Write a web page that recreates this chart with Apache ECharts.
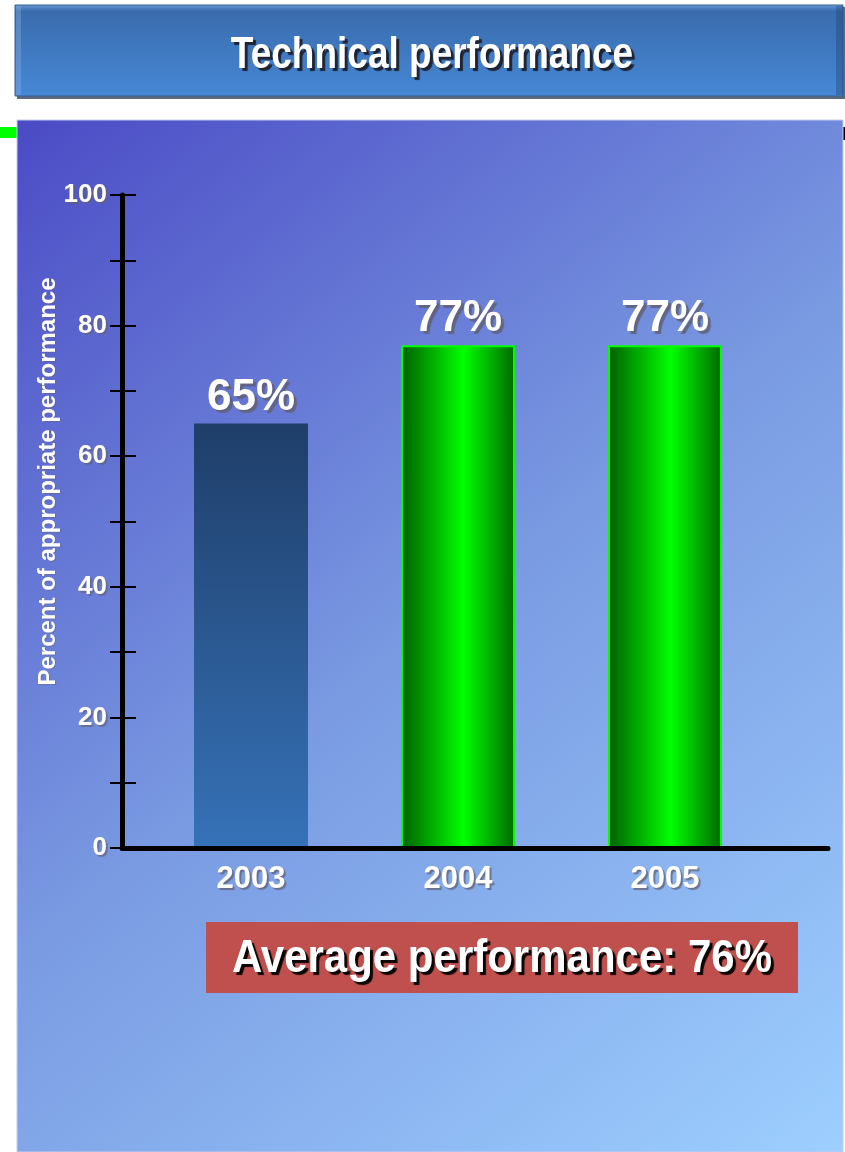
<!DOCTYPE html>
<html>
<head>
<meta charset="utf-8">
<title>Technical performance</title>
<script src="https://cdn.jsdelivr.net/npm/echarts@6/dist/echarts.min.js"></script>
<style>
  html, body { margin: 0; padding: 0; background: #ffffff; }
  #chart { width: 845px; height: 1152px; }
</style>
</head>
<body>
<div id="chart"></div>
<script>
// ---- data ----
const chartTitle = 'Technical performance';
const yAxisTitle = 'Percent of appropriate performance';
const years = ['2003', '2004', '2005'];
const performance = [65, 77, 77];
const labeledTicks = [0, 20, 40, 60, 80, 100];
const averageText = 'Average performance: 76%';

// ---- styling ----
const FONT = '"Liberation Sans", Arial, Helvetica, sans-serif';
const G = echarts.graphic;

const panelFill = new G.LinearGradient(0, 0, 1, 1, [
  { offset: 0, color: '#4b4bc5' },
  { offset: 0.5, color: '#7a9be2' },
  { offset: 1, color: '#9dcfff' }
]);
const titleFill = new G.LinearGradient(0, 0, 0, 1, [
  { offset: 0, color: '#6b9ddd' },
  { offset: 0.07, color: '#3a6cad' },
  { offset: 1, color: '#4688d6' }
]);
const navyFill = new G.LinearGradient(0, 0, 0, 1, [
  { offset: 0, color: '#1f3e69' },
  { offset: 1, color: '#3672b8' }
]);
const greenFill = new G.LinearGradient(0, 0, 1, 0, [
  { offset: 0, color: '#006000' },
  { offset: 0.55, color: '#00ff00' },
  { offset: 1, color: '#006800' }
]);

const whiteBold = {
  color: '#ffffff',
  fontWeight: 'bold',
  fontFamily: FONT
};

// soft grey drop shadow used on the white chart texts
function greyShadow(alpha, off) {
  return {
    textShadowColor: 'rgba(95,95,115,' + alpha + ')',
    textShadowBlur: 1,
    textShadowOffsetX: off,
    textShadowOffsetY: off
  };
}

// first year shown in navy, later years in green
const barData = performance.map((v, i) => ({
  value: v,
  itemStyle: i === 0
    ? { color: navyFill }
    : { color: greenFill, borderColor: '#00ff00', borderWidth: 2 }
}));

const chart = echarts.init(document.getElementById('chart'), null, { renderer: 'canvas' });

chart.setOption({
  animation: false,
  grid: [
    { left: 122, right: 17, top: 195, bottom: 304 },       // frame axes
    { left: 147.5, right: 76.5, top: 195, bottom: 304 }    // bars
  ],
  xAxis: [
    {
      gridIndex: 0, type: 'value', min: 0, max: 1, z: 5,
      axisLine: { show: true, lineStyle: { color: '#000000', width: 5 } },
      axisTick: { show: false }, axisLabel: { show: false }, splitLine: { show: false }
    },
    {
      gridIndex: 1, type: 'category', data: years,
      axisLine: { show: false }, axisTick: { show: false }, splitLine: { show: false },
      axisLabel: Object.assign({ fontSize: 31, margin: 16 }, whiteBold, greyShadow(0.75, 2))
    }
  ],
  yAxis: [
    {
      gridIndex: 0, type: 'value', min: 0, max: 100, interval: 10, position: 'left', z: 5,
      axisLine: { show: true, lineStyle: { color: '#000000', width: 5 } },
      axisTick: { show: true, length: 12, lineStyle: { color: '#000000', width: 2 } },
      splitLine: { show: false },
      axisLabel: Object.assign({
        fontSize: 26, margin: 15,
        formatter: v => labeledTicks.includes(v) ? String(v) : ''
      }, whiteBold, greyShadow(0.65, 2)),
      name: yAxisTitle,
      nameLocation: 'middle',
      nameRotate: 90,
      nameGap: 62,
      nameMoveOverlap: false,
      nameTextStyle: Object.assign({
        fontSize: 24,
        padding: [0, 0, 0, 80]
      }, whiteBold, greyShadow(0.5, 1))
    },
    {
      // tick marks on the inner side of the axis
      gridIndex: 0, type: 'value', min: 0, max: 100, interval: 10, position: 'left', offset: 0, z: 5,
      axisLine: { show: false },
      axisTick: { show: true, inside: true, length: 14, lineStyle: { color: '#000000', width: 2 } },
      axisLabel: { show: false }, splitLine: { show: false }
    },
    { gridIndex: 1, type: 'value', min: 0, max: 100, show: false }
  ],
  series: [
    {
      type: 'bar',
      xAxisIndex: 1,
      yAxisIndex: 2,
      barWidth: 114,
      data: barData,
      label: Object.assign({
        show: true,
        position: 'top',
        distance: 4,
        fontSize: 44,
        formatter: '{c}%'
      }, whiteBold, greyShadow(0.85, 3))
    }
  ],
  graphic: [
    // green rule behind the panel
    { type: 'rect', z: -20, shape: { x: 0, y: 127, width: 845, height: 11 }, style: { fill: '#00ff00' } },
    { type: 'rect', z: -20, shape: { x: 843, y: 127, width: 2, height: 13 }, style: { fill: '#000000' } },
    // gradient panel
    { type: 'rect', z: -15, shape: { x: 17, y: 120, width: 826, height: 1032 },
      style: { fill: panelFill, stroke: '#c4cbef', lineWidth: 1 } },
    // title bar
    { type: 'rect', z: -15, shape: { x: 17, y: 7, width: 828, height: 92 }, style: { fill: '#5a6880' } },
    { type: 'rect', z: -14, shape: { x: 15, y: 5, width: 828, height: 91 },
      style: { fill: titleFill, stroke: '#3a5d8e', lineWidth: 1 } },
    { type: 'rect', z: -13, shape: { x: 836, y: 6, width: 7, height: 89 }, style: { fill: 'rgba(30,60,110,0.35)' } },
    { type: 'rect', z: -13, shape: { x: 16, y: 6, width: 5, height: 89 }, style: { fill: 'rgba(140,180,235,0.35)' } },
    { type: 'text', z: 10, x: 432, y: 56, scaleY: 1.18,
      style: {
        text: chartTitle, fill: '#ffffff',
        font: 'bold 37px ' + FONT,
        textAlign: 'center', textVerticalAlign: 'middle',
        textShadowColor: 'rgba(25,25,35,0.9)', textShadowBlur: 1,
        textShadowOffsetX: 3, textShadowOffsetY: 3
      } },
    // average box
    { type: 'rect', z: 10, shape: { x: 206, y: 922, width: 592, height: 71 }, style: { fill: '#c0504d' } },
    { type: 'text', z: 11, x: 502, y: 959, scaleY: 1.1,
      style: {
        text: averageText, fill: '#ffffff',
        font: 'bold 42px ' + FONT,
        textAlign: 'center', textVerticalAlign: 'middle',
        textShadowColor: 'rgba(0,0,0,0.95)', textShadowBlur: 1,
        textShadowOffsetX: 3, textShadowOffsetY: 3
      } }
  ]
});
</script>
</body>
</html>
